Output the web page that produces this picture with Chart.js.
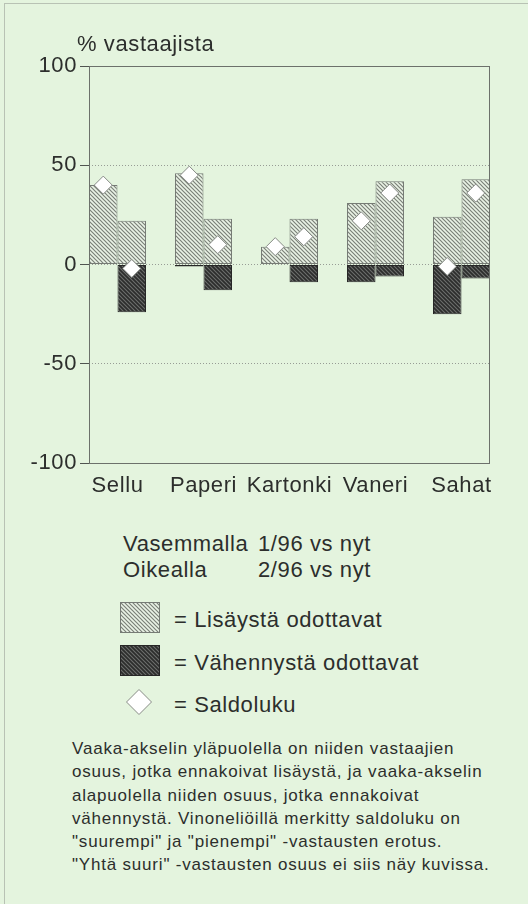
<!DOCTYPE html>
<html>
<head>
<meta charset="utf-8">
<script src="https://cdn.jsdelivr.net/npm/chart.js@4.4.1/dist/chart.umd.min.js"></script>
<style>
  body { margin: 0; width: 528px; height: 904px; background: #e4f4de; font-family: "Liberation Sans", Arial, sans-serif; color: #2c2e2c; overflow: hidden; position: relative; }
  .kehys { position: absolute; left: 4px; top: 3px; width: 530px; height: 910px; border-left: 1px solid #b8c2b4; border-top: 1px solid #b8c2b4; }
  #wrap { position: absolute; left: 0; top: 0; width: 528px; height: 510px; }
  .iso { position: absolute; font-size: 22px; line-height: 25px; letter-spacing: 0.6px; white-space: nowrap; }
  .iso span { display: inline-block; width: 135px; }
  .sw { position: absolute; }
  .teksti { position: absolute; left: 72px; top: 737px; font-size: 17px; line-height: 23.3px; letter-spacing: 0.8px; white-space: nowrap; }
</style>
</head>
<body>
<div class="kehys"></div>
<div id="wrap"><canvas id="kaavio"></canvas></div>
<div class="iso" style="left:77px; top:31px">% vastaajista</div>
<div class="iso" style="left:123px; top:531px"><span>Vasemmalla</span>1/96 vs nyt</div>
<div class="iso" style="left:123px; top:557px"><span>Oikealla</span>2/96 vs nyt</div>

<canvas class="sw" id="sw1" width="40" height="31" style="left:120px; top:602px"></canvas>
<div class="iso" style="left:174px; top:607px">= Lisäystä odottavat</div>
<canvas class="sw" id="sw2" width="40" height="31" style="left:120px; top:645px"></canvas>
<div class="iso" style="left:174px; top:650px">= Vähennystä odottavat</div>
<canvas class="sw" id="sw3" width="28" height="28" style="left:125px; top:688px"></canvas>
<div class="iso" style="left:174px; top:692px">= Saldoluku</div>

<div class="teksti">
Vaaka-akselin yläpuolella on niiden vastaajien<br>
osuus, jotka ennakoivat lisäystä, ja vaaka-akselin<br>
alapuolella niiden osuus, jotka ennakoivat<br>
vähennystä. Vinoneliöillä merkitty saldoluku on<br>
"suurempi" ja "pienempi" -vastausten erotus.<br>
"Yhtä suuri" -vastausten osuus ei siis näy kuvissa.
</div>

<script>
// toimialat ja vastausten osuudet (%)
const kategoriat = ['Sellu', 'Paperi', 'Kartonki', 'Vaneri', 'Sahat'];
const lisaysVas = [40, 46, 9, 31, 24];      // 1/96 vs nyt
const vahennysVas = [0, -1, 0, -9, -25];
const lisaysOik = [22, 23, 23, 42, 43];     // 2/96 vs nyt
const vahennysOik = [-24, -13, -9, -6, -7];
const saldoVas = [40, 45, 9, 22, -1];
const saldoOik = [-2, 10, 14, 36, 36];
const yTicks = [-100, -50, 0, 50, 100];

const RYHMA = 0.663; // pylväsparin leveys kategorian välistä

function viivoitus(pohja, viiva, paksuus) {
  const c = document.createElement('canvas');
  c.width = c.height = 4;
  const g = c.getContext('2d');
  g.fillStyle = pohja;
  g.fillRect(0, 0, 4, 4);
  g.strokeStyle = viiva;
  g.lineWidth = paksuus;
  g.beginPath();
  g.moveTo(-1, -1); g.lineTo(5, 5);
  g.moveTo(-1, 3); g.lineTo(1, 5);
  g.moveTo(3, -1); g.lineTo(5, 1);
  g.stroke();
  return g.createPattern(c, 'repeat');
}

const vaalea = viivoitus('#eaf3e6', '#7a8078', 1.2);
const tumma = viivoitus('#2c2d2c', '#6c6e6c', 1.1);
const vaaleaReuna = '#767b75';
const tummaReuna = '#262626';

const pisteet = (arr, siirto) => arr.map((v, i) => ({ x: i + siirto, y: v }));

const kehys = {
  id: 'kehys',
  beforeDraw(chart) { chart.ctx.letterSpacing = '0.6px'; },
  afterDraw(chart) {
    const { ctx, chartArea: a } = chart;
    const l = Math.round(a.left), t = Math.round(a.top), r = Math.round(a.right), b = Math.round(a.bottom);
    ctx.save();
    ctx.setLineDash([]);
    ctx.strokeStyle = '#6c716b';
    ctx.lineWidth = 1;
    ctx.strokeRect(l + 0.5, t + 0.5, r - l - 1, b - t);
    ctx.restore();
  }
};

const pylvas = (label, data, stack, bg, reuna) => ({
  label, data: pisteet(data, 0), stack,
  backgroundColor: bg, borderColor: reuna, borderWidth: 1, borderSkipped: false,
  categoryPercentage: RYHMA, barPercentage: 1, order: 1
});

new Chart(document.getElementById('kaavio'), {
  type: 'bar',
  data: {
    datasets: [
      pylvas('Lisäystä odottavat', lisaysVas, 'vas', vaalea, vaaleaReuna),
      pylvas('Vähennystä odottavat', vahennysVas, 'vas', tumma, tummaReuna),
      pylvas('Lisäystä odottavat', lisaysOik, 'oik', vaalea, vaaleaReuna),
      pylvas('Vähennystä odottavat', vahennysOik, 'oik', tumma, tummaReuna),
      {
        type: 'scatter', label: 'Saldoluku',
        data: [...pisteet(saldoVas, -RYHMA / 4), ...pisteet(saldoOik, RYHMA / 4)],
        pointStyle: 'rectRot', pointRadius: 9, pointHoverRadius: 9,
        backgroundColor: '#ffffff', borderColor: '#868a85', borderWidth: 1, order: 0
      }
    ]
  },
  options: {
    responsive: true,
    maintainAspectRatio: false,
    animation: false,
    layout: { padding: { left: 0, right: 38, top: 66, bottom: 7 } },
    plugins: { legend: { display: false }, tooltip: { enabled: false } },
    scales: {
      x: {
        type: 'linear',
        offset: false,
        min: -RYHMA / 2,
        max: kategoriat.length - 1 + RYHMA / 2,
        afterBuildTicks: s => { s.ticks = kategoriat.map((c, i) => ({ value: i })); },
        afterFit: s => { s.height = 40; },
        grid: { display: false, drawTicks: false, offset: false },
        border: { display: false },
        ticks: {
          autoSkip: false, maxRotation: 0, padding: 10,
          color: '#2c2e2c', font: { family: 'Liberation Sans', size: 22 },
          callback: v => kategoriat[v]
        }
      },
      y: {
        min: -100, max: 100,
        afterBuildTicks: s => { s.ticks = yTicks.map(v => ({ value: v })); },
        afterFit: s => { s.width = 89; },
        grid: {
          color: c => Math.abs(c.tick.value) === 100 ? 'rgba(0,0,0,0)' : '#979c95',
          lineWidth: 1, tickLength: 9, tickColor: '#505450'
        },
        border: { display: false, dash: [1, 2] },
        ticks: {
          padding: 3, color: '#2c2e2c', font: { family: 'Liberation Sans', size: 22 }
        }
      }
    }
  },
  plugins: [kehys]
});

// selitteen merkit
function ruutu(id, bg, reuna) {
  const c = document.getElementById(id), g = c.getContext('2d');
  g.fillStyle = bg;
  g.fillRect(0, 0, c.width, c.height);
  g.strokeStyle = reuna;
  g.strokeRect(0.5, 0.5, c.width - 1, c.height - 1);
}
ruutu('sw1', vaalea, vaaleaReuna);
ruutu('sw2', tumma, tummaReuna);
(() => {
  const g = document.getElementById('sw3').getContext('2d');
  g.beginPath();
  g.moveTo(14, 1.5); g.lineTo(26.5, 14); g.lineTo(14, 26.5); g.lineTo(1.5, 14); g.closePath();
  g.fillStyle = '#ffffff'; g.fill();
  g.strokeStyle = '#868a85'; g.stroke();
})();
</script>
</body>
</html>
